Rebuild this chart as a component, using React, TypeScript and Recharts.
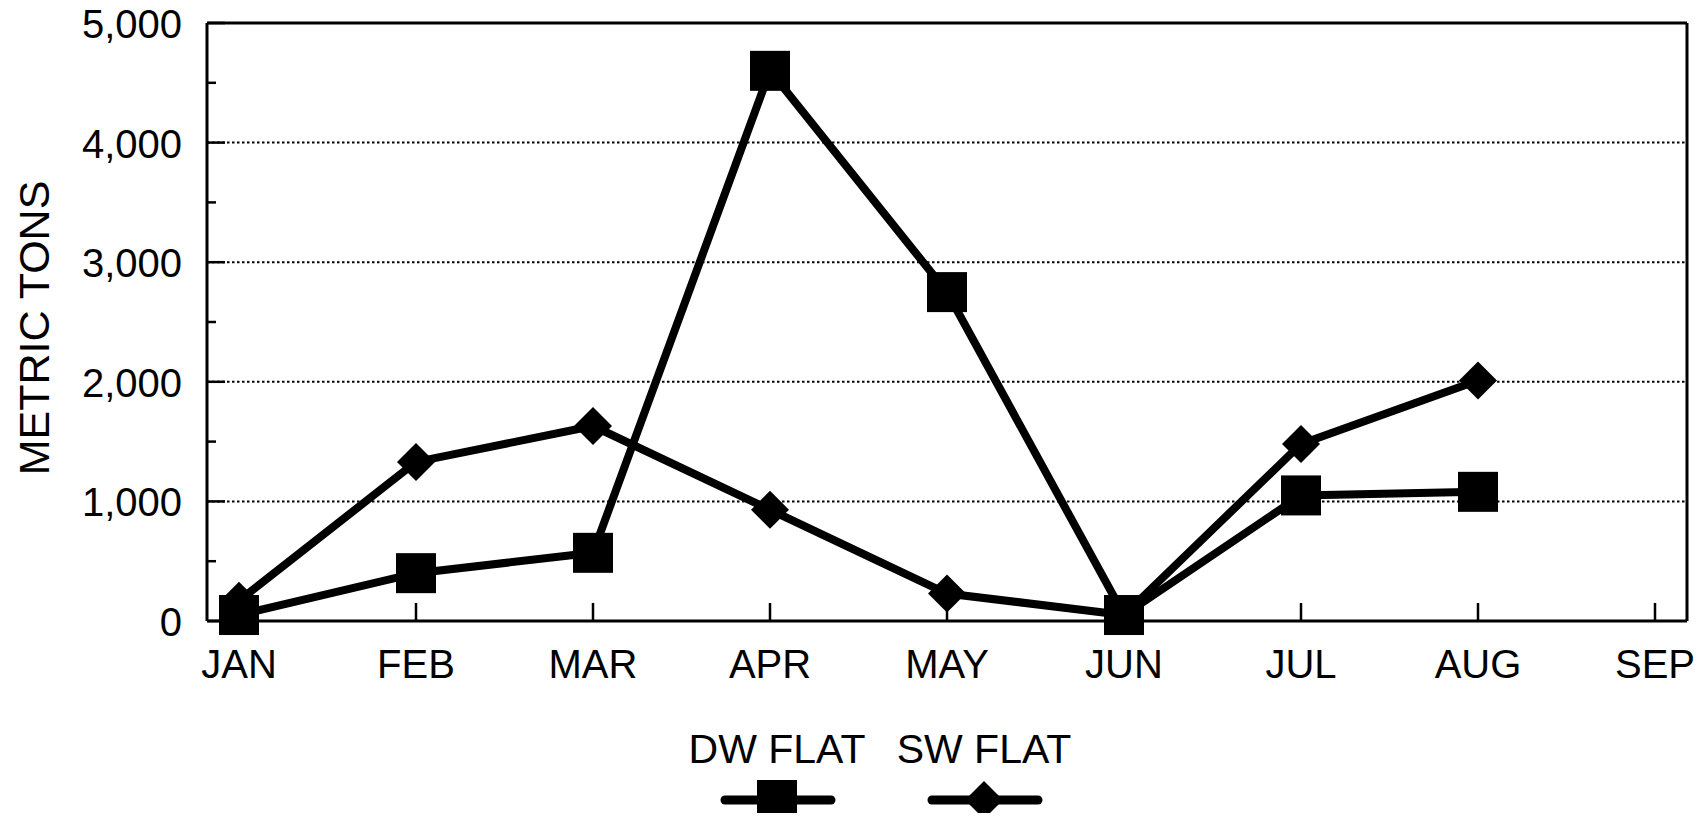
import React from 'react';
import { LineChart, Line, XAxis, YAxis, CartesianGrid } from 'recharts';

const months = ['JAN', 'FEB', 'MAR', 'APR', 'MAY', 'JUN', 'JUL', 'AUG', 'SEP'];
const dwFlat = [50, 400, 570, 4600, 2750, 50, 1050, 1080, null];
const swFlat = [170, 1330, 1630, 930, 230, 50, 1480, 2010, null];
const yTicks = [0, 500, 1000, 1500, 2000, 2500, 3000, 3500, 4000, 4500, 5000];
const gridValues = [1000, 2000, 3000, 4000];
const seriesNames = ['DW FLAT', 'SW FLAT'];

const data = months.map((m, i) => ({ month: m, dw: dwFlat[i], sw: swFlat[i] }));

const FONT = '"Liberation Sans", Arial, sans-serif';

const YTick = (props: any) => {
    const { x, y, payload } = props;
    const major = payload.value % 1000 === 0;
    return (
        <g>
            <line x1={x} x2={x + (major ? 18 : 9)} y1={y} y2={y} stroke="#000" strokeWidth={2.5} />
            {major && (
                <text x={x - 25} y={y + 15} textAnchor="end" fontSize={40} fill="#000" fontFamily={FONT}>
                    {payload.value.toLocaleString('en-US')}
                </text>
            )}
        </g>
    );
};

const XTick = (props: any) => {
    const { x, y, payload } = props;
    return (
        <g>
            <line x1={x} x2={x} y1={y} y2={y - 18} stroke="#000" strokeWidth={2.5} />
            <text x={x} y={y + 57} textAnchor="middle" fontSize={40} fill="#000" fontFamily={FONT}>
                {payload.value}
            </text>
        </g>
    );
};

const AxisTitle = (props: any) => {
    const { viewBox } = props;
    const cx = viewBox.x + 26;
    const cy = viewBox.y + viewBox.height / 2 + 6;
    return (
        <text x={cx} y={cy} transform={`rotate(-90 ${cx} ${cy})`} textAnchor="middle" dominantBaseline="central"
            fontSize={43} fill="#000" fontFamily={FONT}>
            METRIC TONS
        </text>
    );
};

const SquareDot = (props: any) => {
    const { cx, cy, payload } = props;
    if (cx == null || cy == null || payload.dw == null) return null;
    return <rect x={cx - 20} y={cy - 20} width={40} height={40} fill="#000" />;
};

const DiamondDot = (props: any) => {
    const { cx, cy, payload } = props;
    if (cx == null || cy == null || payload.sw == null) return null;
    const r = 19;
    return <path d={`M${cx},${cy - r}L${cx + r},${cy}L${cx},${cy + r}L${cx - r},${cy}Z`} fill="#000" />;
};

// legend drawn as an overlay, in chart coordinates
const LegendOverlay = () => {
    const items = [
        { name: seriesNames[0], cx: 769, marker: 'square' },
        { name: seriesNames[1], cx: 976, marker: 'diamond' },
    ];
    const ly = 802;
    return (
        <svg width={1690} height={815} style={{ position: 'absolute', left: 0, top: 0, pointerEvents: 'none' }}>
            {items.map((it) => (
                <g key={it.name}>
                    <text x={it.cx} y={765} textAnchor="middle" fontSize={41} fill="#000" fontFamily={FONT}>{it.name}</text>
                    <line x1={it.cx - 52} x2={it.cx + 54} y1={ly} y2={ly} stroke="#000" strokeWidth={9} strokeLinecap="round" />
                    {it.marker === 'square'
                        ? <rect x={it.cx - 20} y={ly - 20} width={40} height={40} fill="#000" />
                        : <path d={`M${it.cx},${ly - 19}L${it.cx + 19},${ly}L${it.cx},${ly + 19}L${it.cx - 19},${ly}Z`} fill="#000" />}
                </g>
            ))}
        </svg>
    );
};

export default function App() {
    const axisLine = { stroke: '#000', strokeWidth: 3 };
    return (
        <div style={{ position: 'relative', top: -10, width: 1690, height: 805, background: '#fff' }}>
            <LineChart width={1690} height={815} data={data} margin={{ top: 24, right: 10, bottom: 132, left: 0 }}>
                <CartesianGrid vertical={false} horizontalValues={gridValues} stroke="#000" strokeWidth={2} strokeDasharray="2.5 2.5" />
                <XAxis dataKey="month" height={60} padding={{ left: 32, right: 32 }} axisLine={axisLine}
                    tickLine={false} tickSize={0} tickMargin={0} tick={<XTick />} interval={0} />
                <XAxis xAxisId="top" orientation="top" dataKey="month" height={1} padding={{ left: 32, right: 32 }}
                    axisLine={axisLine} tick={false} tickLine={false} />
                <YAxis width={199} domain={[0, 5000]} ticks={yTicks} interval={0} axisLine={axisLine}
                    tickLine={false} tickSize={0} tickMargin={0} tick={<YTick />} label={<AxisTitle />} />
                <YAxis yAxisId="right" orientation="right" width={1} domain={[0, 5000]} axisLine={axisLine}
                    tick={false} tickLine={false} />
                <Line type="linear" dataKey="dw" name={seriesNames[0]} stroke="#000" strokeWidth={8}
                    dot={<SquareDot />} activeDot={false} isAnimationActive={false} />
                <Line type="linear" dataKey="sw" name={seriesNames[1]} stroke="#000" strokeWidth={8}
                    dot={<DiamondDot />} activeDot={false} isAnimationActive={false} />
            </LineChart>
            <LegendOverlay />
        </div>
    );
}
